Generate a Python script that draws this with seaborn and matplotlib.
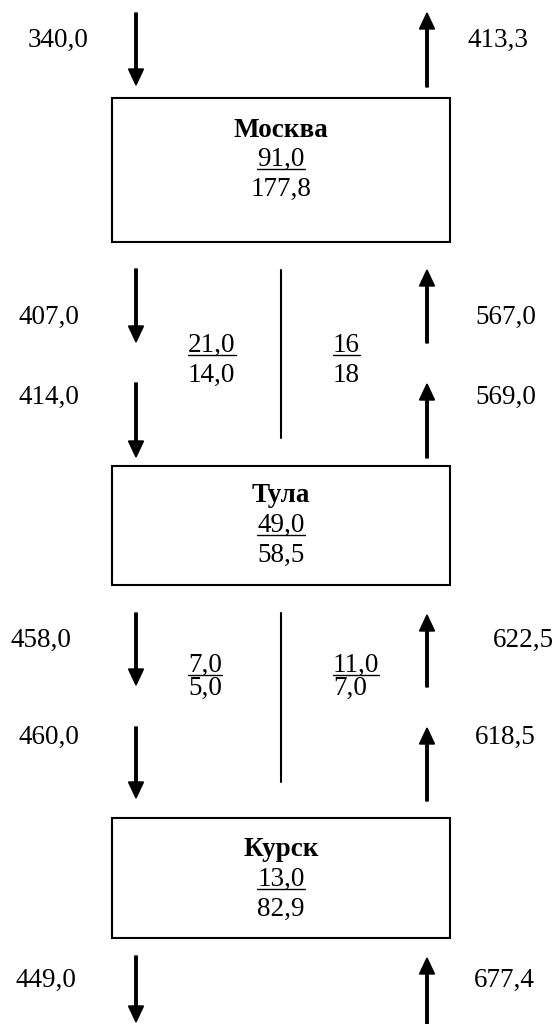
import numpy as np
import pandas as pd
import matplotlib
matplotlib.use("Agg")
import matplotlib.pyplot as plt
import seaborn as sns
from matplotlib.patches import Rectangle

# Data of the scheme
cities = ["Москва", "Тула", "Курск"]
city_upper = ["91,0", "49,0", "13,0"]
city_lower = ["177,8", "58,5", "82,9"]

down_flows = ["340,0", "407,0", "414,0", "458,0", "460,0", "449,0"]
up_flows = ["413,3", "567,0", "569,0", "622,5", "618,5", "677,4"]

# values between the cities (left and right of the separator)
left_upper = ["21,0", "7,0"]
left_lower = ["14,0", "5,0"]
right_upper = ["16", "11,0"]
right_lower = ["18", "7,0"]

# Layout (pixel coordinates)
box_x0, box_x1 = 112, 450
box_y = [(98, 242), (466, 585), (818, 938)]
name_y = [128, 493, 847]
upper_y = [157, 523, 877]
lower_y = [187, 553, 907]

down_x = 136
down_seg = [(13, 85), (269, 342), (383, 457), (613, 685), (727, 798), (956, 1022)]
down_lab_x = [58, 49, 49, 41, 49, 46]
up_x = 427
up_seg = [(87, 13), (343, 270), (458, 384), (687, 615), (801, 728), (1026, 958)]
up_lab_x = [498, 506, 506, 523, 505, 504]
flow_lab_y = [38, 315, 395, 638, 735, 978]

sep_x = 281
sep_seg = [(270, 438), (613, 782)]
mid_upper_y = [343, 663]
mid_lower_y = [373, 686]
mid_left_x, mid_right_x = 188, 333

sns.set_theme(style="white")
plt.rcParams['font.family'] = ['Liberation Serif', 'DejaVu Serif']
FS = 19.5
HALF = 9  # half digit height, px

fig = plt.figure(figsize=(5.54, 10.24), dpi=100)
ax = fig.add_axes([0, 0, 1, 1])
ax.set_xlim(0, 554)
ax.set_ylim(1024, 0)
ax.axis("off")

underlined = []


def put(x, y, s, ha="center", bold=False, underline=False):
    t = ax.text(x, y + HALF, s, ha=ha, va="baseline", fontsize=FS,
                fontweight="bold" if bold else "normal", color="black")
    if underline:
        underlined.append((t, y + HALF + 2.5))
    return t


# city boxes
for i, city in enumerate(cities):
    y0, y1 = box_y[i]
    ax.add_patch(Rectangle((box_x0, y0), box_x1 - box_x0, y1 - y0,
                           fill=False, lw=1.5, ec="black"))
    cx = (box_x0 + box_x1) / 2
    put(cx, name_y[i], city, bold=True)
    put(cx, upper_y[i], city_upper[i], underline=True)
    put(cx, lower_y[i], city_lower[i])

# arrows
for (a, b), lab, lx, ly in zip(down_seg, down_flows, down_lab_x, flow_lab_y):
    ax.arrow(down_x, a, 0, b - a, width=2.5, head_width=15, head_length=16,
             length_includes_head=True, color="black")
    put(lx, ly, lab)
for (a, b), lab, lx, ly in zip(up_seg, up_flows, up_lab_x, flow_lab_y):
    ax.arrow(up_x, a, 0, b - a, width=2.5, head_width=15, head_length=16,
             length_includes_head=True, color="black")
    put(lx, ly, lab)

# separators between the directions
sep = pd.DataFrame({
    "x": [sep_x] * 4,
    "y": [v for seg in sep_seg for v in seg],
    "seg": [0, 0, 1, 1],
})
sns.lineplot(data=sep, x="x", y="y", units="seg", estimator=None, sort=False,
             color="black", lw=1.5, ax=ax)
ax.set_xlim(0, 554)
ax.set_ylim(1024, 0)
ax.axis("off")

for i in range(2):
    put(mid_left_x, mid_upper_y[i], left_upper[i], ha="left", underline=True)
    put(mid_left_x, mid_lower_y[i], left_lower[i], ha="left")
    put(mid_right_x, mid_upper_y[i], right_upper[i], ha="left", underline=True)
    put(mid_right_x, mid_lower_y[i], right_lower[i], ha="left")

# underlines
fig.canvas.draw()
inv = ax.transData.inverted()
for t, uy in underlined:
    bb = t.get_window_extent()
    x0 = inv.transform((bb.x0, 0))[0]
    x1 = inv.transform((bb.x1, 0))[0]
    ax.plot([x0, x1], [uy, uy], color="black", lw=1.0)

fig.savefig("out.png", dpi=100)
